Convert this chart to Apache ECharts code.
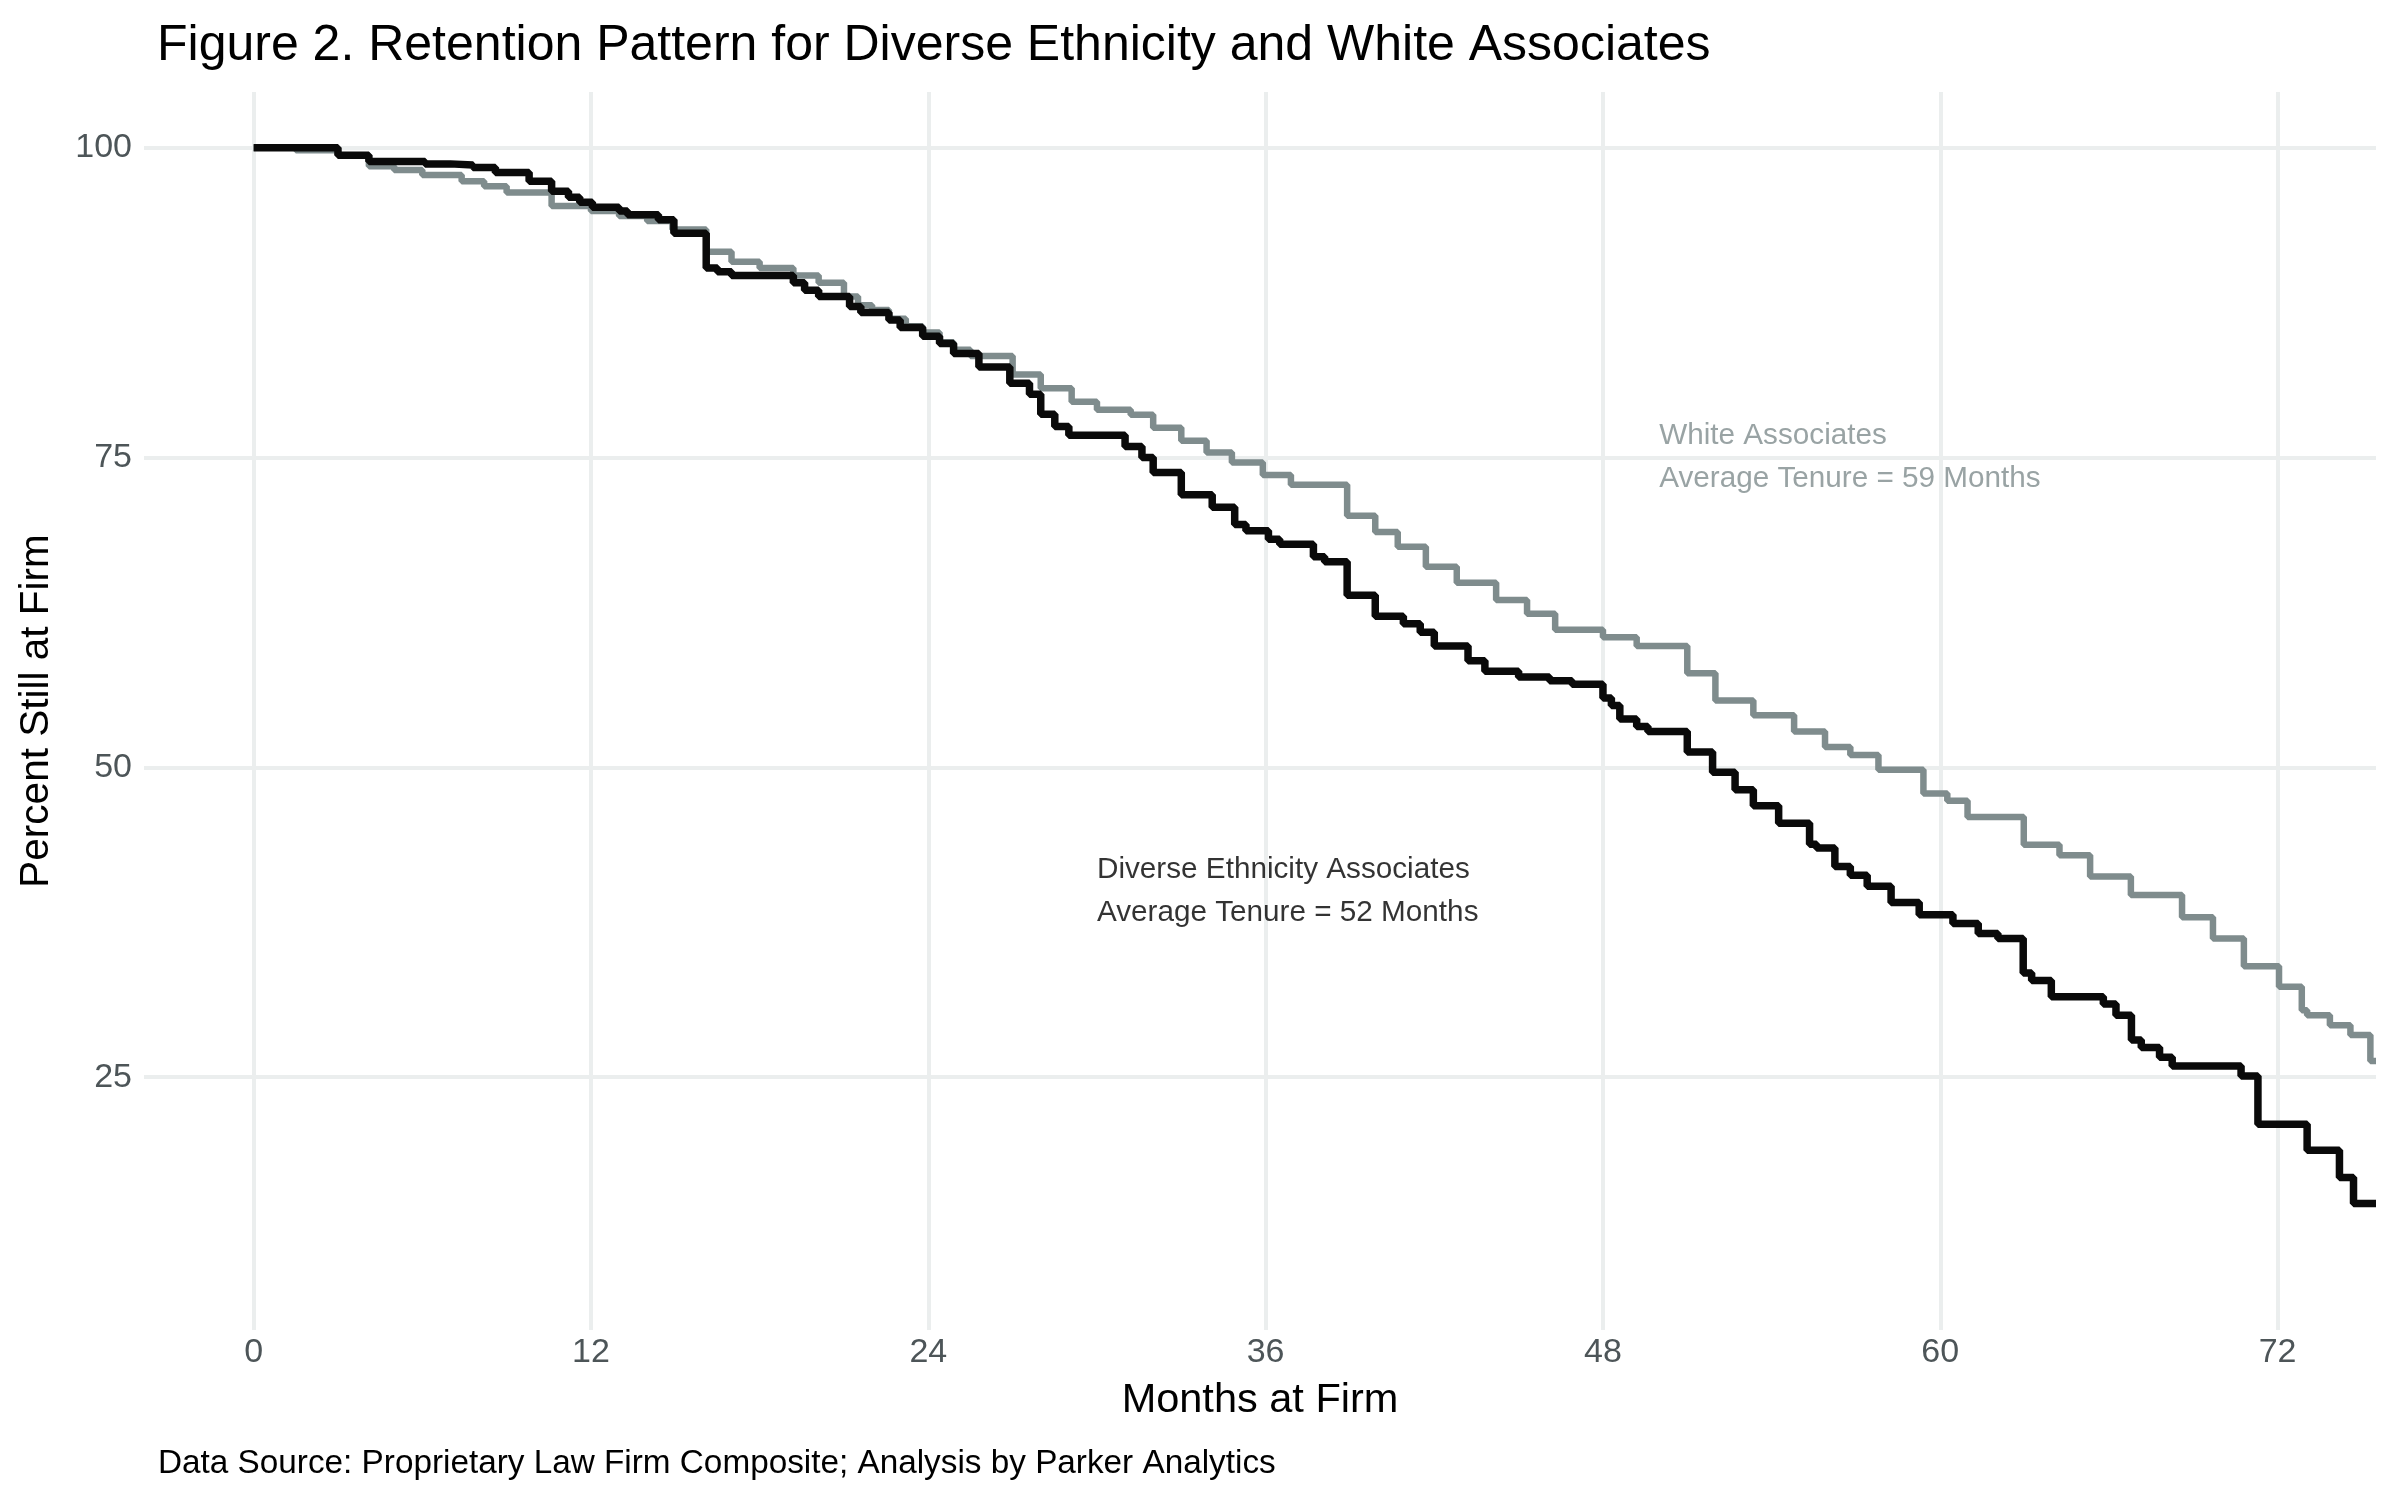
<!DOCTYPE html>
<html>
<head>
<meta charset="utf-8">
<script src="https://cdn.jsdelivr.net/npm/echarts@6/dist/echarts.min.js"></script>
<style>
  html, body { margin: 0; padding: 0; background: #ffffff; }
  #chart { width: 2400px; height: 1500px; }
</style>
</head>
<body>
<div id="chart"></div>
<script>
// ---------- Data ----------
const titleText = 'Figure 2. Retention Pattern for Diverse Ethnicity and White Associates';
const captionText = 'Data Source: Proprietary Law Firm Composite; Analysis by Parker Analytics';
const xAxisTitle = 'Months at Firm';
const yAxisTitle = 'Percent Still at Firm';
const xTicks = [0, 12, 24, 36, 48, 60, 72];
const yTicks = [25, 50, 75, 100];

// Kaplan-Meier style step curves: [month, percent still at firm]
const diverseCurve = [
  [0, 100], [3.0, 99.4], [4.1, 98.9], [6.1, 98.7], [7.0, 98.6], [7.8, 98.4], [8.6, 98.0],
  [9.8, 97.3], [10.6, 96.5], [11.2, 96.0], [11.6, 95.6], [12.05, 95.2], [13.0, 94.9],
  [13.3, 94.6], [14.4, 94.2], [14.95, 93.1], [16.1, 90.3], [16.5, 90.0], [17.0, 89.7],
  [19.2, 89.1], [19.6, 88.5], [20.1, 88.0], [21.2, 87.2], [21.6, 86.7], [22.6, 86.1],
  [23.0, 85.5], [23.8, 84.8], [24.4, 84.2], [24.9, 83.4], [25.8, 82.3], [26.9, 81.0],
  [27.6, 80.1], [28.0, 78.5], [28.5, 77.5], [29.0, 76.8], [31.0, 75.9], [31.6, 75.0],
  [32.0, 73.8], [33.0, 72.0], [34.1, 71.0], [34.9, 69.6], [35.3, 69.1], [36.1, 68.4],
  [36.5, 68.0], [37.7, 67.0], [38.1, 66.6], [38.9, 63.9], [39.9, 62.2], [40.9, 61.6],
  [41.5, 60.9], [42.0, 59.8], [43.2, 58.6], [43.8, 57.75], [45.0, 57.3], [46.1, 57.0],
  [46.9, 56.7], [48.0, 55.6], [48.3, 55.0], [48.6, 53.9], [49.2, 53.3], [49.6, 52.9],
  [51.0, 51.25], [51.9, 49.6], [52.7, 48.2], [53.35, 46.9], [54.25, 45.5], [55.35, 43.8],
  [55.6, 43.5], [56.25, 42.0], [56.8, 41.3], [57.4, 40.4], [58.25, 39.1], [59.25, 38.1],
  [60.45, 37.4], [61.35, 36.6], [62.05, 36.2], [62.95, 33.4], [63.25, 32.8], [63.95, 31.5],
  [65.8, 30.9], [66.25, 30.0], [66.8, 28.0], [67.15, 27.4], [67.8, 26.6], [68.25, 25.9],
  [70.7, 25.1], [71.3, 21.2], [73.05, 19.1], [74.2, 16.9], [74.7, 14.8], [75.5, 14.8]
];

const whiteCurve = [
  [0, 100], [1.5, 99.8], [3.0, 99.4], [4.1, 98.5], [5.0, 98.2], [6.0, 97.8], [7.4, 97.3],
  [8.2, 96.9], [9.0, 96.4], [10.6, 95.3], [12.0, 94.9], [13.0, 94.5], [14.0, 94.1],
  [14.9, 93.4], [16.1, 91.6], [17.0, 90.8], [18.0, 90.3], [19.2, 89.7], [20.1, 89.1],
  [21.0, 88.0], [21.5, 87.3], [22.0, 86.9], [22.6, 86.2], [23.2, 85.6], [23.8, 85.1],
  [24.4, 84.3], [24.9, 83.7], [25.5, 83.2], [27.0, 81.7], [28.0, 80.6], [29.1, 79.5],
  [30.0, 78.85], [31.2, 78.45], [32.0, 77.4], [33.0, 76.35], [33.9, 75.4], [34.8, 74.6],
  [35.9, 73.6], [36.9, 72.8], [38.9, 70.3], [39.9, 69.0], [40.7, 67.8], [41.7, 66.2],
  [42.8, 64.9], [44.2, 63.5], [45.3, 62.4], [46.3, 61.1], [48.0, 60.5], [49.2, 59.8],
  [51.0, 57.6], [52.0, 55.4], [53.35, 54.2], [54.8, 52.9], [55.9, 51.65], [56.8, 51.0],
  [57.8, 49.8], [59.4, 47.9], [60.25, 47.3], [60.97, 46.0], [62.97, 43.75], [64.24, 42.9],
  [65.33, 41.2], [66.78, 39.7], [68.6, 37.9], [69.7, 36.2], [70.8, 33.95], [72.05, 32.3],
  [72.86, 30.4], [73.05, 30.0], [73.86, 29.2], [74.59, 28.4], [75.3, 26.3], [75.5, 26.3]
];

// Annotation anchors (data coordinates) and texts
const diverseLabelAt = [30, 40];
const whiteLabelAt = [50, 75];
const diverseLabel = 'Diverse Ethnicity Associates\nAverage Tenure = 52 Months';
const whiteLabel = 'White Associates\nAverage Tenure = 59 Months';

// ---------- Chart ----------
const FONT = '"Liberation Sans", Arial, Helvetica, sans-serif';
const GRAY = '#7F8C8D';
const chart = echarts.init(document.getElementById('chart'), null, { renderer: 'canvas' });

chart.setOption({
  animation: false,
  backgroundColor: '#ffffff',
  textStyle: { fontFamily: FONT },
  title: [
    {
      text: titleText,
      left: 152, top: 16,
      textStyle: { fontFamily: FONT, fontSize: 50, fontWeight: 'normal', color: '#000000' }
    },
    {
      text: captionText,
      left: 153, top: 1442,
      textStyle: { fontFamily: FONT, fontSize: 33.3, fontWeight: 'normal', color: '#000000' }
    }
  ],
  grid: { left: 144, right: 24, top: 92, bottom: 170, containLabel: false },
  xAxis: {
    type: 'value',
    min: -3.9, max: 75.5,
    name: xAxisTitle,
    nameLocation: 'middle',
    nameGap: 50,
    nameTextStyle: { fontFamily: FONT, fontSize: 41.5, color: '#000000' },
    axisLine: { show: false },
    axisTick: { show: false, customValues: xTicks },
    axisLabel: { customValues: xTicks, margin: 6, fontFamily: FONT, fontSize: 34, color: '#4D5558' },
    splitLine: { show: true, lineStyle: { color: '#EBEEEE', width: 4 } }
  },
  yAxis: {
    type: 'value',
    min: 4.6, max: 104.5,
    name: yAxisTitle,
    nameLocation: 'middle',
    nameGap: 87,
    nameTextStyle: { fontFamily: FONT, fontSize: 40.5, color: '#000000' },
    axisLine: { show: false },
    axisTick: { show: false, customValues: yTicks },
    axisLabel: { customValues: yTicks, margin: 12, fontFamily: FONT, fontSize: 34, color: '#4D5558' },
    splitLine: { show: true, lineStyle: { color: '#EBEEEE', width: 4 } }
  },
  series: [
    {
      name: 'White Associates',
      type: 'line',
      step: 'end',
      data: whiteCurve,
      showSymbol: false,
      silent: true,
      lineStyle: { color: GRAY, width: 6.5 },
      z: 2
    },
    {
      name: 'Diverse Ethnicity Associates',
      type: 'line',
      step: 'end',
      data: diverseCurve,
      showSymbol: false,
      silent: true,
      lineStyle: { color: '#0a0a0a', width: 7.5 },
      z: 3
    },
    {
      type: 'scatter',
      data: [diverseLabelAt],
      symbolSize: 0,
      silent: true,
      label: {
        show: true, position: 'right', distance: 0,
        formatter: diverseLabel,
        fontFamily: FONT, fontSize: 29.7, lineHeight: 43, color: '#000000'
      },
      z: 4
    },
    {
      type: 'scatter',
      data: [whiteLabelAt],
      symbolSize: 0,
      silent: true,
      label: {
        show: true, position: 'right', distance: 0,
        formatter: whiteLabel,
        fontFamily: FONT, fontSize: 29.7, lineHeight: 43, color: GRAY
      },
      z: 4
    }
  ]
});
</script>
</body>
</html>
